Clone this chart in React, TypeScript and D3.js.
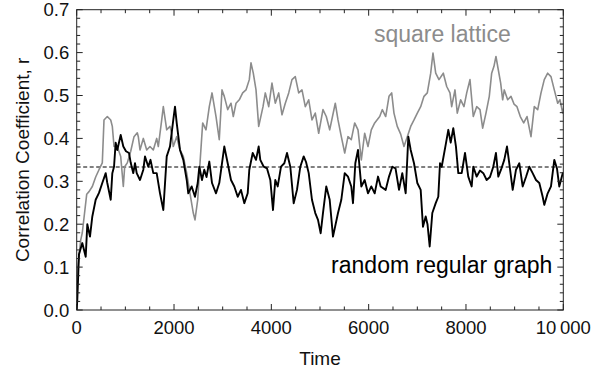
import React from "react";
import * as d3 from "d3";

const latticeT = [0,12,82,115,206,253,321,390,458,526,561,629,699,732,767,834,904,958,986,1040,1110,1178,1245,1266,1301,1369,1439,1506,1574,1644,1677,1747,1780,1850,1917,1952,1985,2055,2123,2191,2261,2328,2396,2431,2487,2520,2589,2657,2725,2781,2863,2930,2986,3033,3103,3171,3218,3274,3341,3411,3479,3547,3582,3629,3685,3740,3829,3876,3946,4013,4081,4151,4219,4287,4357,4424,4492,4562,4630,4698,4768,4835,4903,4973,5061,5129,5199,5314,5370,5438,5508,5575,5643,5713,5781,5849,5918,5986,6054,6124,6227,6280,6350,6418,6473,6520,6588,6658,6726,6794,6864,6932,7000,7069,7137,7205,7275,7322,7378,7445,7534,7604,7671,7706,7774,7821,7891,7959,8015,8082,8150,8220,8288,8343,8411,8479,8528,8575,8616,8664,8713,8754,8787,8857,8925,8987,9048,9116,9186,9254,9336,9404,9474,9542,9609,9679,9747,9815,9885,9932,9988,10000];
const latticeR = [0,0.086,0.163,0.18,0.27,0.276,0.288,0.31,0.327,0.343,0.443,0.451,0.443,0.428,0.381,0.381,0.358,0.288,0.334,0.343,0.37,0.404,0.413,0.404,0.373,0.4,0.373,0.381,0.373,0.4,0.381,0.443,0.474,0.42,0.428,0.412,0.381,0.404,0.373,0.358,0.319,0.272,0.226,0.21,0.257,0.319,0.436,0.42,0.474,0.506,0.451,0.397,0.513,0.498,0.467,0.482,0.451,0.482,0.49,0.506,0.513,0.537,0.576,0.552,0.513,0.428,0.474,0.506,0.474,0.529,0.482,0.506,0.455,0.482,0.506,0.537,0.544,0.506,0.513,0.474,0.49,0.443,0.459,0.412,0.467,0.451,0.42,0.482,0.443,0.404,0.366,0.404,0.397,0.436,0.42,0.35,0.412,0.381,0.42,0.436,0.451,0.467,0.451,0.498,0.506,0.459,0.428,0.41,0.381,0.404,0.428,0.443,0.459,0.474,0.498,0.506,0.552,0.599,0.552,0.537,0.552,0.521,0.506,0.474,0.513,0.459,0.49,0.474,0.506,0.537,0.451,0.474,0.467,0.424,0.459,0.498,0.552,0.568,0.591,0.56,0.529,0.49,0.513,0.49,0.498,0.48,0.474,0.451,0.436,0.451,0.404,0.474,0.467,0.506,0.537,0.552,0.544,0.513,0.482,0.49,0.459,0.47];

const randomT = [0,12,47,115,185,218,273,321,390,458,526,596,629,699,732,767,801,834,904,958,1013,1075,1110,1163,1198,1233,1301,1369,1404,1471,1517,1574,1644,1712,1780,1850,1917,1985,2020,2055,2123,2191,2261,2293,2363,2431,2487,2520,2575,2622,2668,2725,2781,2863,2930,3033,3103,3171,3239,3309,3376,3445,3514,3547,3617,3685,3740,3773,3843,3911,3979,4034,4081,4131,4199,4267,4322,4390,4459,4527,4595,4665,4713,4768,4835,4903,4959,5014,5061,5129,5199,5267,5370,5438,5508,5575,5643,5678,5726,5781,5849,5918,5986,6054,6124,6192,6247,6350,6418,6486,6552,6624,6691,6761,6815,6864,6932,7000,7069,7116,7172,7209,7254,7308,7378,7431,7466,7501,7589,7637,7686,7739,7794,7842,7912,7980,8047,8117,8150,8220,8288,8356,8425,8493,8561,8616,8664,8720,8787,8843,8890,8960,9028,9096,9165,9233,9301,9370,9439,9507,9576,9609,9679,9747,9815,9870,9917,9988,10000];
const randomR = [0,0.023,0.13,0.156,0.124,0.2,0.171,0.218,0.257,0.273,0.296,0.319,0.296,0.257,0.319,0.334,0.39,0.373,0.408,0.381,0.37,0.366,0.343,0.319,0.342,0.319,0.303,0.327,0.358,0.334,0.35,0.319,0.319,0.272,0.233,0.358,0.381,0.443,0.474,0.436,0.373,0.35,0.303,0.272,0.288,0.264,0.296,0.334,0.303,0.327,0.31,0.346,0.296,0.272,0.296,0.381,0.342,0.303,0.288,0.264,0.28,0.249,0.272,0.327,0.366,0.35,0.381,0.35,0.334,0.33,0.303,0.233,0.303,0.288,0.334,0.342,0.366,0.334,0.249,0.28,0.334,0.358,0.345,0.319,0.257,0.226,0.21,0.179,0.226,0.288,0.257,0.171,0.226,0.257,0.319,0.311,0.288,0.249,0.342,0.373,0.288,0.303,0.272,0.288,0.272,0.311,0.288,0.28,0.311,0.334,0.33,0.28,0.319,0.272,0.404,0.373,0.342,0.296,0.28,0.194,0.218,0.2,0.148,0.226,0.249,0.264,0.342,0.334,0.389,0.42,0.39,0.424,0.381,0.319,0.319,0.366,0.311,0.288,0.334,0.311,0.325,0.319,0.303,0.31,0.334,0.366,0.311,0.327,0.35,0.381,0.342,0.28,0.327,0.342,0.288,0.31,0.334,0.319,0.303,0.296,0.264,0.245,0.272,0.288,0.35,0.33,0.288,0.319,0.32];

const xTickValues = [0, 2000, 4000, 6000, 8000, 10000];
const xTickLabels = ["0", "2000", "4000", "6000", "8000", "10\u2009000"];
const yTickValues = [0, 0.1, 0.2, 0.3, 0.4, 0.5, 0.6, 0.7];
const yTickLabels = ["0.0", "0.1", "0.2", "0.3", "0.4", "0.5", "0.6", "0.7"];
const referenceLevel = 1 / 3;

const W = 607, H = 376;
const L = 76.7, R = 563.3, T = 9.7, B = 310;
const FONT = "'Liberation Sans', Arial, sans-serif";
const GRAY = "#8c8c8c";

export default function App() {
  const x = d3.scaleLinear().domain([0, 10000]).range([L, R]);
  const y = d3.scaleLinear().domain([0, 0.7]).range([B, T]);
  const line = d3.line<[number, number]>().x(d => x(d[0])).y(d => y(d[1]));
  const lattice = latticeT.map((t, i) => [t, latticeR[i]] as [number, number]);
  const random = randomT.map((t, i) => [t, randomR[i]] as [number, number]);

  const xMinor = d3.range(0, 10001, 500);
  const yMinor = d3.range(0, 36).map(i => i * 0.02);
  const isMajorX = (v: number) => v % 2000 === 0;
  const isMajorY = (v: number) => Math.abs(v * 10 - Math.round(v * 10)) < 1e-6;

  return (
    <svg width={W} height={H} style={{ position: "absolute", left: 0, top: 0 }}>
      <rect x={0} y={0} width={W} height={H} fill="#fff" />
      <defs>
        <clipPath id="plot">
          <rect x={L} y={T} width={R - L} height={B - T} />
        </clipPath>
      </defs>
      <line x1={L} x2={R} y1={y(referenceLevel)} y2={y(referenceLevel)} stroke="#000" strokeWidth={1} strokeDasharray="4,2.5" />
      <g clipPath="url(#plot)" fill="none" strokeLinejoin="round">
        <path d={line(lattice) || ""} stroke={GRAY} strokeWidth={1.6} />
        <path d={line(random) || ""} stroke="#000" strokeWidth={1.9} />
      </g>
      <rect x={L} y={T} width={R - L} height={B - T} fill="none" stroke="#222" strokeWidth={1} />
      <g stroke="#222" strokeWidth={1}>
        {xMinor.map(v => {
          const len = isMajorX(v) ? 6 : 3.5;
          return (
            <g key={"x" + v}>
              <line x1={x(v)} x2={x(v)} y1={B} y2={B - len} />
              <line x1={x(v)} x2={x(v)} y1={T} y2={T + len} />
            </g>
          );
        })}
        {yMinor.map(v => {
          const len = isMajorY(v) ? 6 : 3.5;
          return (
            <g key={"y" + v}>
              <line x1={L} x2={L + len} y1={y(v)} y2={y(v)} />
              <line x1={R} x2={R - len} y1={y(v)} y2={y(v)} />
            </g>
          );
        })}
      </g>
      <g fontFamily={FONT} fontSize={18.5} fill="#111">
        {xTickValues.map((v, i) => (
          <text key={"xl" + v} x={x(v)} y={334} textAnchor="middle">{xTickLabels[i]}</text>
        ))}
        {yTickValues.map((v, i) => (
          <text key={"yl" + v} x={L - 7.5} y={y(v) + 6.5} textAnchor="end">{yTickLabels[i]}</text>
        ))}
      </g>
      <text x={(L + R) / 2} y={365} textAnchor="middle" fontFamily={FONT} fontSize={19} fill="#111">Time</text>
      <text transform={`translate(28.5, ${(T + B) / 2}) rotate(-90)`} textAnchor="middle" fontFamily={FONT} fontSize={19} fill="#111">Correlation Coefficient, r</text>
      <text x={510.7} y={41.7} textAnchor="end" fontFamily={FONT} fontSize={23} fill={GRAY}>square lattice</text>
      <text x={552.3} y={273.3} textAnchor="end" fontFamily={FONT} fontSize={23} fill="#000">random regular graph</text>
    </svg>
  );
}
